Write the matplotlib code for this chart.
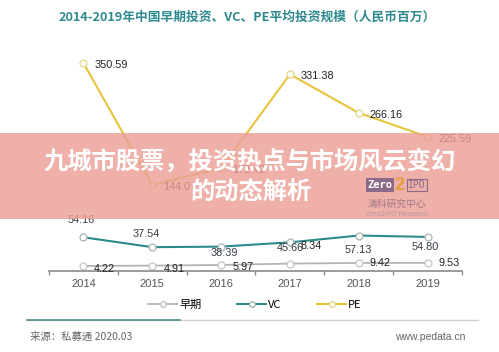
import matplotlib
matplotlib.use("Agg")
import matplotlib.pyplot as plt
from matplotlib.patches import Rectangle
from matplotlib.lines import Line2D

plt.rcParams['font.family'] = ['Liberation Sans', 'Noto Sans CJK SC', 'DejaVu Sans']

years = ['2014', '2015', '2016', '2017', '2018', '2019']
early = [4.22, 4.91, 5.97, 8.34, 9.42, 9.53]
vc = [54.16, 37.54, 38.39, 45.66, 57.13, 54.80]
pe = [350.59, 144.07, 172.42, 331.38, 266.16, 225.59]

c_early = '#b4b4b4'
c_vc = '#2b8a8a'
c_pe = '#e8c43c'

W, H = 499, 352
fig = plt.figure(figsize=(W / 100, H / 100), dpi=100)


def box(x0, y0, x1, y1):
    # pixel box (top-left origin) -> figure fraction
    return [x0 / W, 1 - y1 / H, (x1 - x0) / W, (y1 - y0) / H]


x = list(range(len(years)))
xl = (-0.5, 5.5)

# broken axis: PE on top, VC in the middle, early at the bottom
ax_pe = fig.add_axes(box(49, 50, 462, 200))
ax_vc = fig.add_axes(box(49, 225, 462, 255))
ax_e = fig.add_axes(box(49, 256, 462, 270.7))

ax_pe.set_ylim(118.7, 372.6)
ax_vc.set_ylim(24.3, 74.9)
ax_e.set_ylim(-3.75, 21.2)

for a in (ax_pe, ax_vc, ax_e):
    a.set_xlim(*xl)
    a.patch.set_alpha(0)
    for s in a.spines.values():
        s.set_visible(False)
    a.set_yticks([])
    a.set_xticks([])

ax_e.spines['bottom'].set_visible(True)
ax_e.spines['bottom'].set_color('#8a8a8a')
ax_e.spines['bottom'].set_linewidth(1.2)
ax_e.set_xticks([i - 0.5 for i in range(7)], minor=True)
ax_e.tick_params(axis='x', which='minor', length=3, color='#8a8a8a', width=1)
ax_e.set_xticks(x)
ax_e.set_xticklabels(years, fontsize=8, color='#555555')
ax_e.tick_params(axis='x', which='major', length=0, pad=6)

mk = dict(marker='o', markersize=5, markerfacecolor='white', markeredgewidth=0.9, clip_on=False)
ax_pe.plot(x, pe, color=c_pe, lw=1.5, markeredgecolor='#e6d48a', **mk)
ax_vc.plot(x, vc, color=c_vc, lw=1.5, markeredgecolor='#a8b4b4', **mk)
ax_e.plot(x, early, color=c_early, lw=1.3, markeredgecolor='#c4c4c4', **mk)

fs = 7.8
for i, v in enumerate(pe):
    ax_pe.annotate(f'{v:.2f}', (i, v), xytext=(11, -2), textcoords='offset pixels',
                   ha='left', va='center', fontsize=fs, color='#222222')

vc_off = [(-2, 17), (-6, 13), (3, -6), (0, -6), (0, -14), (-2, -10)]
for i, v in enumerate(vc):
    dx, dy = vc_off[i]
    ax_vc.annotate(f'{v:.2f}', (i, v), xytext=(dx, dy), textcoords='offset pixels',
                   ha='center', va='center', fontsize=fs, color='#333a44')

e_off = [(10, -3), (11, -3), (12, -2), (11, 18), (11, 0), (11, 0)]
for i, v in enumerate(early):
    dx, dy = e_off[i]
    ax_e.annotate(f'{v:.2f}', (i, v), xytext=(dx, dy), textcoords='offset pixels',
                  ha='left', va='center', fontsize=fs, color='#222222')

fig.text(247 / W, 1 - 17 / H, '2014-2019年中国早期投资、VC、PE平均投资规模（人民币百万）',
         ha='center', va='center', fontsize=9.2, color='#2f8a8f', fontweight='bold',
         family=['Noto Sans CJK SC', 'DejaVu Sans'])

# legend
handles = [
    Line2D([], [], color=c_early, lw=1.3, marker='o', markersize=4, markerfacecolor='white', markeredgecolor='#c4c4c4'),
    Line2D([], [], color=c_vc, lw=1.5, marker='o', markersize=4, markerfacecolor='white', markeredgecolor='#a8b4b4'),
    Line2D([], [], color=c_pe, lw=1.5, marker='o', markersize=4, markerfacecolor='white', markeredgecolor='#e6d48a'),
]
fig.legend(handles, ['早期', 'VC', 'PE'], loc='center', bbox_to_anchor=(255 / W, 1 - 305 / H),
           ncol=3, frameon=False, handlelength=2.6, handletextpad=0.2,
           columnspacing=3.2, prop={'family': ['Noto Sans CJK SC', 'DejaVu Sans'], 'size': 8})

fig.add_artist(Line2D([27 / W, 478 / W], [1 - 320 / H] * 2, color='#d0d0d0', lw=1))
fig.add_artist(Line2D([27 / W, 180 / W], [1 - 320 / H] * 2, color='#4e8f8f', lw=1.2))

fig.text(30 / W, 1 - 337 / H, '来源：私募通 2020.03', ha='left', va='center', fontsize=7.5,
         color='#666666', family=['Noto Sans CJK SC', 'DejaVu Sans'])
fig.text(465 / W, 1 - 337 / H, 'www.pedata.cn', ha='right', va='center', fontsize=7.5, color='#666666')

# watermark
fig.text(380 / W, 1 - 185 / H, 'Zero', ha='center', va='center', fontsize=7.5, color='white',
         fontweight='bold', family='DejaVu Sans Mono',
         bbox=dict(boxstyle='square,pad=0.15', facecolor='#8a6a88', edgecolor='none'))
fig.text(399 / W, 1 - 186 / H, '2', ha='center', va='center', fontsize=13, color='#e0a040',
         fontweight='bold')
fig.text(417 / W, 1 - 185 / H, 'IPO', ha='center', va='center', fontsize=7, color='#8a6a88',
         family='DejaVu Sans Mono',
         bbox=dict(boxstyle='square,pad=0.15', facecolor='none', edgecolor='#8a6a88', lw=0.8))
fig.text(397 / W, 1 - 204 / H, '清科研究中心', ha='center', va='center', fontsize=7, color='#a07a86',
         family=['Noto Sans CJK SC'])
fig.text(397 / W, 1 - 215 / H, 'Zero2IPO Research', ha='center', va='center', fontsize=5, color='#b89a9e')

# banner overlay
fig.add_artist(Rectangle((0, 1 - 219 / H), 1, 86 / H, transform=fig.transFigure,
                         facecolor='#eb9f95', alpha=0.82, edgecolor='none'))
fig.text(250 / W, 1 - 162 / H, '九城市股票，投资热点与市场风云变幻', ha='center', va='center',
         fontsize=17.5, color='white', fontweight='bold', family=['Noto Sans CJK SC'])
fig.text(251 / W, 1 - 193 / H, '的动态解析', ha='center', va='center',
         fontsize=17.5, color='white', fontweight='bold', family=['Noto Sans CJK SC'])

fig.savefig('out.png', dpi=100)
